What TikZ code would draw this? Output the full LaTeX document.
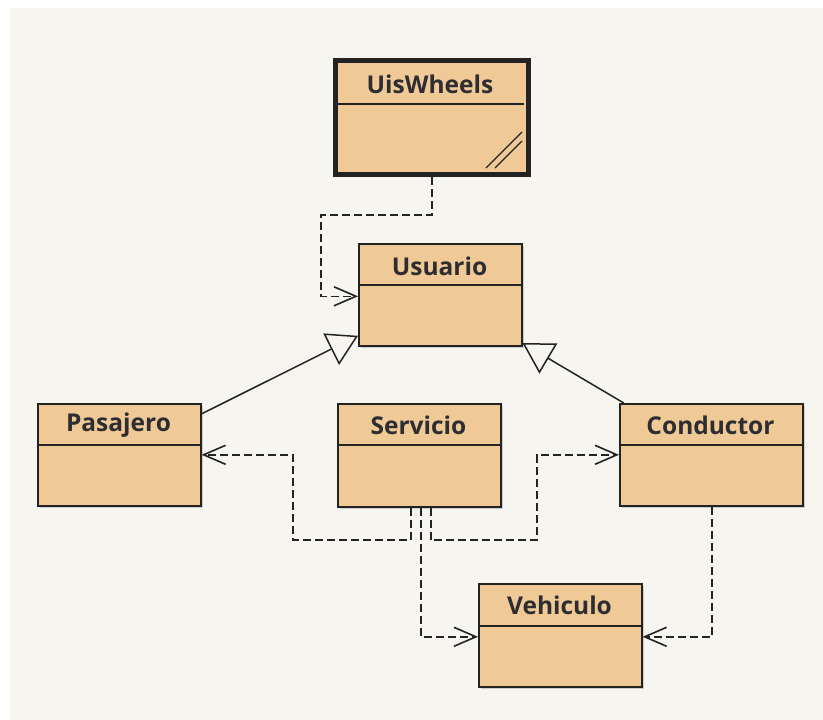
\documentclass[tikz,border=0pt]{standalone}
\usepackage{fontspec}
\setmainfont{Open Sans}
\usetikzlibrary{arrows.meta}
\definecolor{classfill}{RGB}{240,202,150}
\definecolor{panel}{RGB}{246,245,240}
\definecolor{ink}{RGB}{35,35,35}
\definecolor{txt}{RGB}{45,45,50}
\tikzset{
  cls/.style={draw=ink, fill=classfill, line width=1.6pt, inner sep=0pt, anchor=north west,
    preaction={fill=black!20, transform canvas={shift={(2pt,-2pt)}}}},
  divider/.style={draw=ink, line width=1.4pt},
  title/.style={font=\bfseries\fontsize{24.5}{28}\selectfont, text=txt, inner sep=0pt},
  dep/.style={draw=ink, line width=1.5pt, dash pattern=on 8pt off 4pt,
    -{Straight Barb[length=22pt, width=19pt, line width=1.6pt]}},
  gen/.style={draw=ink, line width=1.5pt,
    -{Triangle[open, length=30pt, width=35pt, line width=1.5pt, fill=panel]}}
}
\begin{document}
\begin{tikzpicture}[x=1pt, y=-1pt]
\fill[white] (0,0) rectangle (823,720);
\useasboundingbox (0,0) rectangle (823,720);
\fill[panel] (10,8) rectangle (823,720);

% UisWheels
\node[cls, line width=5pt, minimum width=193pt, minimum height=114pt] (uis) at (333,58) {};
\draw[divider] (335,104) -- (524,104);
\draw[ink, line width=1.4pt] (486,168) -- (522,132);
\draw[ink, line width=1.4pt] (495,168) -- (522,141);
\node[title] (uist) at (430,84) {UisWheels};

% Usuario
\node[cls, minimum width=163pt, minimum height=102pt] (usuario) at (358,243) {};
\draw[divider] (358,285) -- (521,285);
\node[title] (usuariot) at (439.5,266) {Usuario};

% Pasajero
\node[cls, minimum width=163pt, minimum height=102pt] (pasajero) at (37,403) {};
\draw[divider] (37,445) -- (200,445);
\node[title] (pasajerot) at (118.5,425) {Pasajero};

% Servicio
\node[cls, minimum width=163pt, minimum height=103pt] (servicio) at (337,403) {};
\draw[divider] (337,445) -- (500,445);
\node[title] (serviciot) at (418.5,425) {Servicio};

% Conductor
\node[cls, minimum width=183pt, minimum height=102pt] (conductor) at (619,403) {};
\draw[divider] (619,445) -- (802,445);
\node[title] (conductort) at (710.5,425) {Conductor};

% Vehiculo
\node[cls, minimum width=163pt, minimum height=103pt] (vehiculo) at (478,583) {};
\draw[divider] (478,626) -- (641,626);
\node[title] (vehiculot) at (559.5,605) {Vehiculo};

% generalizations
\draw[gen] (pasajero) -- (usuario);
\draw[gen] (conductor) -- (usuario);

% dependencies
\draw[dep] (uis.south) |- (321,215) |- ([yshift=-1.5pt]usuario.west);
\draw[dep] ([xshift=-8.5pt]servicio.south) |- (293,540) |- (pasajero.east);
\draw[dep] ([xshift=11.5pt]servicio.south) |- (537,540) |- (conductor.west);
\draw[dep] ([xshift=1.5pt]servicio.south) |- ([yshift=-1.5pt]vehiculo.west);
\draw[dep] ([xshift=0.5pt]conductor.south) |- ([yshift=-1.5pt]vehiculo.east);
\end{tikzpicture}
\end{document}
